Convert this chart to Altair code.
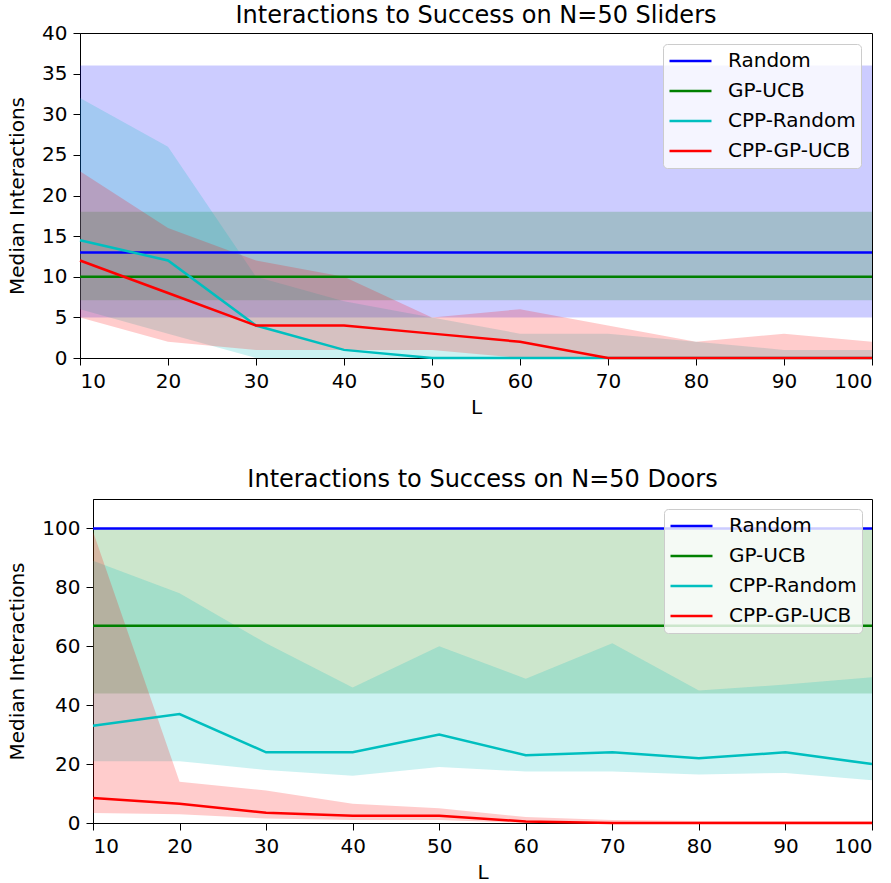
import altair as alt
import pandas as pd

L = [10, 20, 30, 40, 50, 60, 70, 80, 90, 100]
SERIES = ["Random", "GP-UCB", "CPP-Random", "CPP-GP-UCB"]
COLORS = ["#0000ff", "#008000", "#00bfbf", "#ff0000"]

# ---- N=50 Sliders ----
SL_RANDOM_MED = [13, 13, 13, 13, 13, 13, 13, 13, 13, 13]
SL_RANDOM_LO = [5, 5, 5, 5, 5, 5, 5, 5, 5, 5]
SL_RANDOM_HI = [36, 36, 36, 36, 36, 36, 36, 36, 36, 36]
SL_GPUCB_MED = [10, 10, 10, 10, 10, 10, 10, 10, 10, 10]
SL_GPUCB_LO = [7.1, 7.1, 7.1, 7.1, 7.1, 7.1, 7.1, 7.1, 7.1, 7.1]
SL_GPUCB_HI = [18, 18, 18, 18, 18, 18, 18, 18, 18, 18]
SL_CPPR_MED = [14.5, 12, 4, 1, 0, 0, 0, 0, 0, 0]
SL_CPPR_LO = [6, 3, 0, 0, 0, 0, 0, 0, 0, 0]
SL_CPPR_HI = [32, 26, 10, 7, 5, 3, 3, 2, 1, 1]
SL_CPPG_MED = [12, 8, 4, 4, 3, 2, 0, 0, 0, 0]
SL_CPPG_LO = [5, 2, 1, 1, 1, 0, 0, 0, 0, 0]
SL_CPPG_HI = [23, 16, 12, 10, 5, 6, 4, 2, 3, 2]

# ---- N=50 Doors ----
DO_RANDOM_MED = [100, 100, 100, 100, 100, 100, 100, 100, 100, 100]
DO_RANDOM_LO = [100, 100, 100, 100, 100, 100, 100, 100, 100, 100]
DO_RANDOM_HI = [100, 100, 100, 100, 100, 100, 100, 100, 100, 100]
DO_GPUCB_MED = [67, 67, 67, 67, 67, 67, 67, 67, 67, 67]
DO_GPUCB_LO = [44, 44, 44, 44, 44, 44, 44, 44, 44, 44]
DO_GPUCB_HI = [100, 100, 100, 100, 100, 100, 100, 100, 100, 100]
DO_CPPR_MED = [33, 37, 24, 24, 30, 23, 24, 22, 24, 20]
DO_CPPR_LO = [21, 21, 18, 16, 19, 17.5, 17.5, 16.5, 17, 14.5]
DO_CPPR_HI = [89, 78, 61, 46, 60, 49, 61, 45, 47, 49.5]
DO_CPPG_MED = [8.5, 6.5, 3.5, 2.5, 2.5, 0.5, 0, 0, 0, 0]
DO_CPPG_LO = [3.4, 3, 1.5, 1, 1, 0, 0, 0, 0, 0]
DO_CPPG_HI = [99, 14, 11, 6.5, 5, 2, 1, 0.7, 0.7, 0.7]

FONT = "DejaVu Sans"


def table(parts):
    rows = []
    for name, (med, lo, hi) in zip(SERIES, parts):
        for i, l in enumerate(L):
            rows.append({"L": l, "series": name, "med": med[i], "lo": lo[i], "hi": hi[i]})
    return pd.DataFrame(rows)


sliders = table([
    (SL_RANDOM_MED, SL_RANDOM_LO, SL_RANDOM_HI),
    (SL_GPUCB_MED, SL_GPUCB_LO, SL_GPUCB_HI),
    (SL_CPPR_MED, SL_CPPR_LO, SL_CPPR_HI),
    (SL_CPPG_MED, SL_CPPG_LO, SL_CPPG_HI),
])
doors = table([
    (DO_RANDOM_MED, DO_RANDOM_LO, DO_RANDOM_HI),
    (DO_GPUCB_MED, DO_GPUCB_LO, DO_GPUCB_HI),
    (DO_CPPR_MED, DO_CPPR_LO, DO_CPPR_HI),
    (DO_CPPG_MED, DO_CPPG_LO, DO_CPPG_HI),
])


def panel(df, title, ymax, yvals, width, height, title_offset, legend_offset):
    xenc = alt.X("L:Q", scale=alt.Scale(domain=[10, 100], nice=False, zero=False),
                 axis=alt.Axis(values=L, title="L", grid=False))
    yscale = alt.Scale(domain=[0, ymax], nice=False, zero=True)
    cscale = alt.Scale(domain=SERIES, range=COLORS)
    band = alt.Chart(df).mark_area(opacity=0.2).encode(
        x=xenc,
        y=alt.Y("lo:Q", scale=yscale,
                axis=alt.Axis(values=yvals, title="Median Interactions", grid=False)),
        y2="hi:Q",
        color=alt.Color("series:N", scale=cscale, legend=None),
    )
    line = alt.Chart(df).mark_line(strokeWidth=2.5).encode(
        x=xenc,
        y=alt.Y("med:Q", scale=yscale),
        color=alt.Color("series:N", scale=cscale, sort=SERIES, legend=alt.Legend(
            title=None, orient="top-right", offset=legend_offset,
            symbolType="stroke", symbolSize=1764, symbolStrokeWidth=2.5,
            labelFontSize=20, labelFont=FONT, labelColor="black", labelOffset=15,
            fillColor="rgba(255,255,255,0.8)", strokeColor="#cccccc", cornerRadius=4,
            padding=5, rowPadding=6, clipHeight=24,
        )),
    )
    return alt.layer(band, line).resolve_legend(color="independent").properties(
        width=width, height=height,
        title=alt.Title(title, fontSize=24, font=FONT, fontWeight="normal", color="black",
                        anchor="middle", frame="group", offset=title_offset),
    )


def spacer():
    return alt.Chart(pd.DataFrame({"v": [0]})).mark_point(opacity=0).encode(
        x=alt.X("v:Q", axis=None), y=alt.Y("v:Q", axis=None)
    ).properties(width=1, height=1, view=alt.ViewBackground(strokeOpacity=0))


top = panel(sliders, "Interactions to Success on N=50 Sliders", 40,
            [0, 5, 10, 15, 20, 25, 30, 35, 40], 792, 325, -5, 11)
bottom = panel(doors, "Interactions to Success on N=50 Doors", 110,
               [0, 20, 40, 60, 80, 100], 779, 324, 7, 10)

chart = alt.vconcat(
    alt.hconcat(spacer(), top, spacing=0),
    alt.hconcat(spacer(), bottom, spacing=0),
    spacing=49,
).properties(
    padding={"left": 0, "top": 3, "right": 5, "bottom": 5}, background="white"
).configure_view(
    stroke="black", strokeWidth=1
).configure_axis(
    grid=False, domainColor="black", tickColor="black", labelColor="black", titleColor="black",
    labelFont=FONT, titleFont=FONT, labelFontSize=20, titleFontSize=20, titleFontWeight="normal",
    tickSize=7, labelPadding=6, domainWidth=1, tickWidth=1,
).configure_axisY(
    titlePadding=14
).configure_axisX(
    titlePadding=6
)

chart.save("out.html", embed_options={"renderer": "svg", "actions": False})
